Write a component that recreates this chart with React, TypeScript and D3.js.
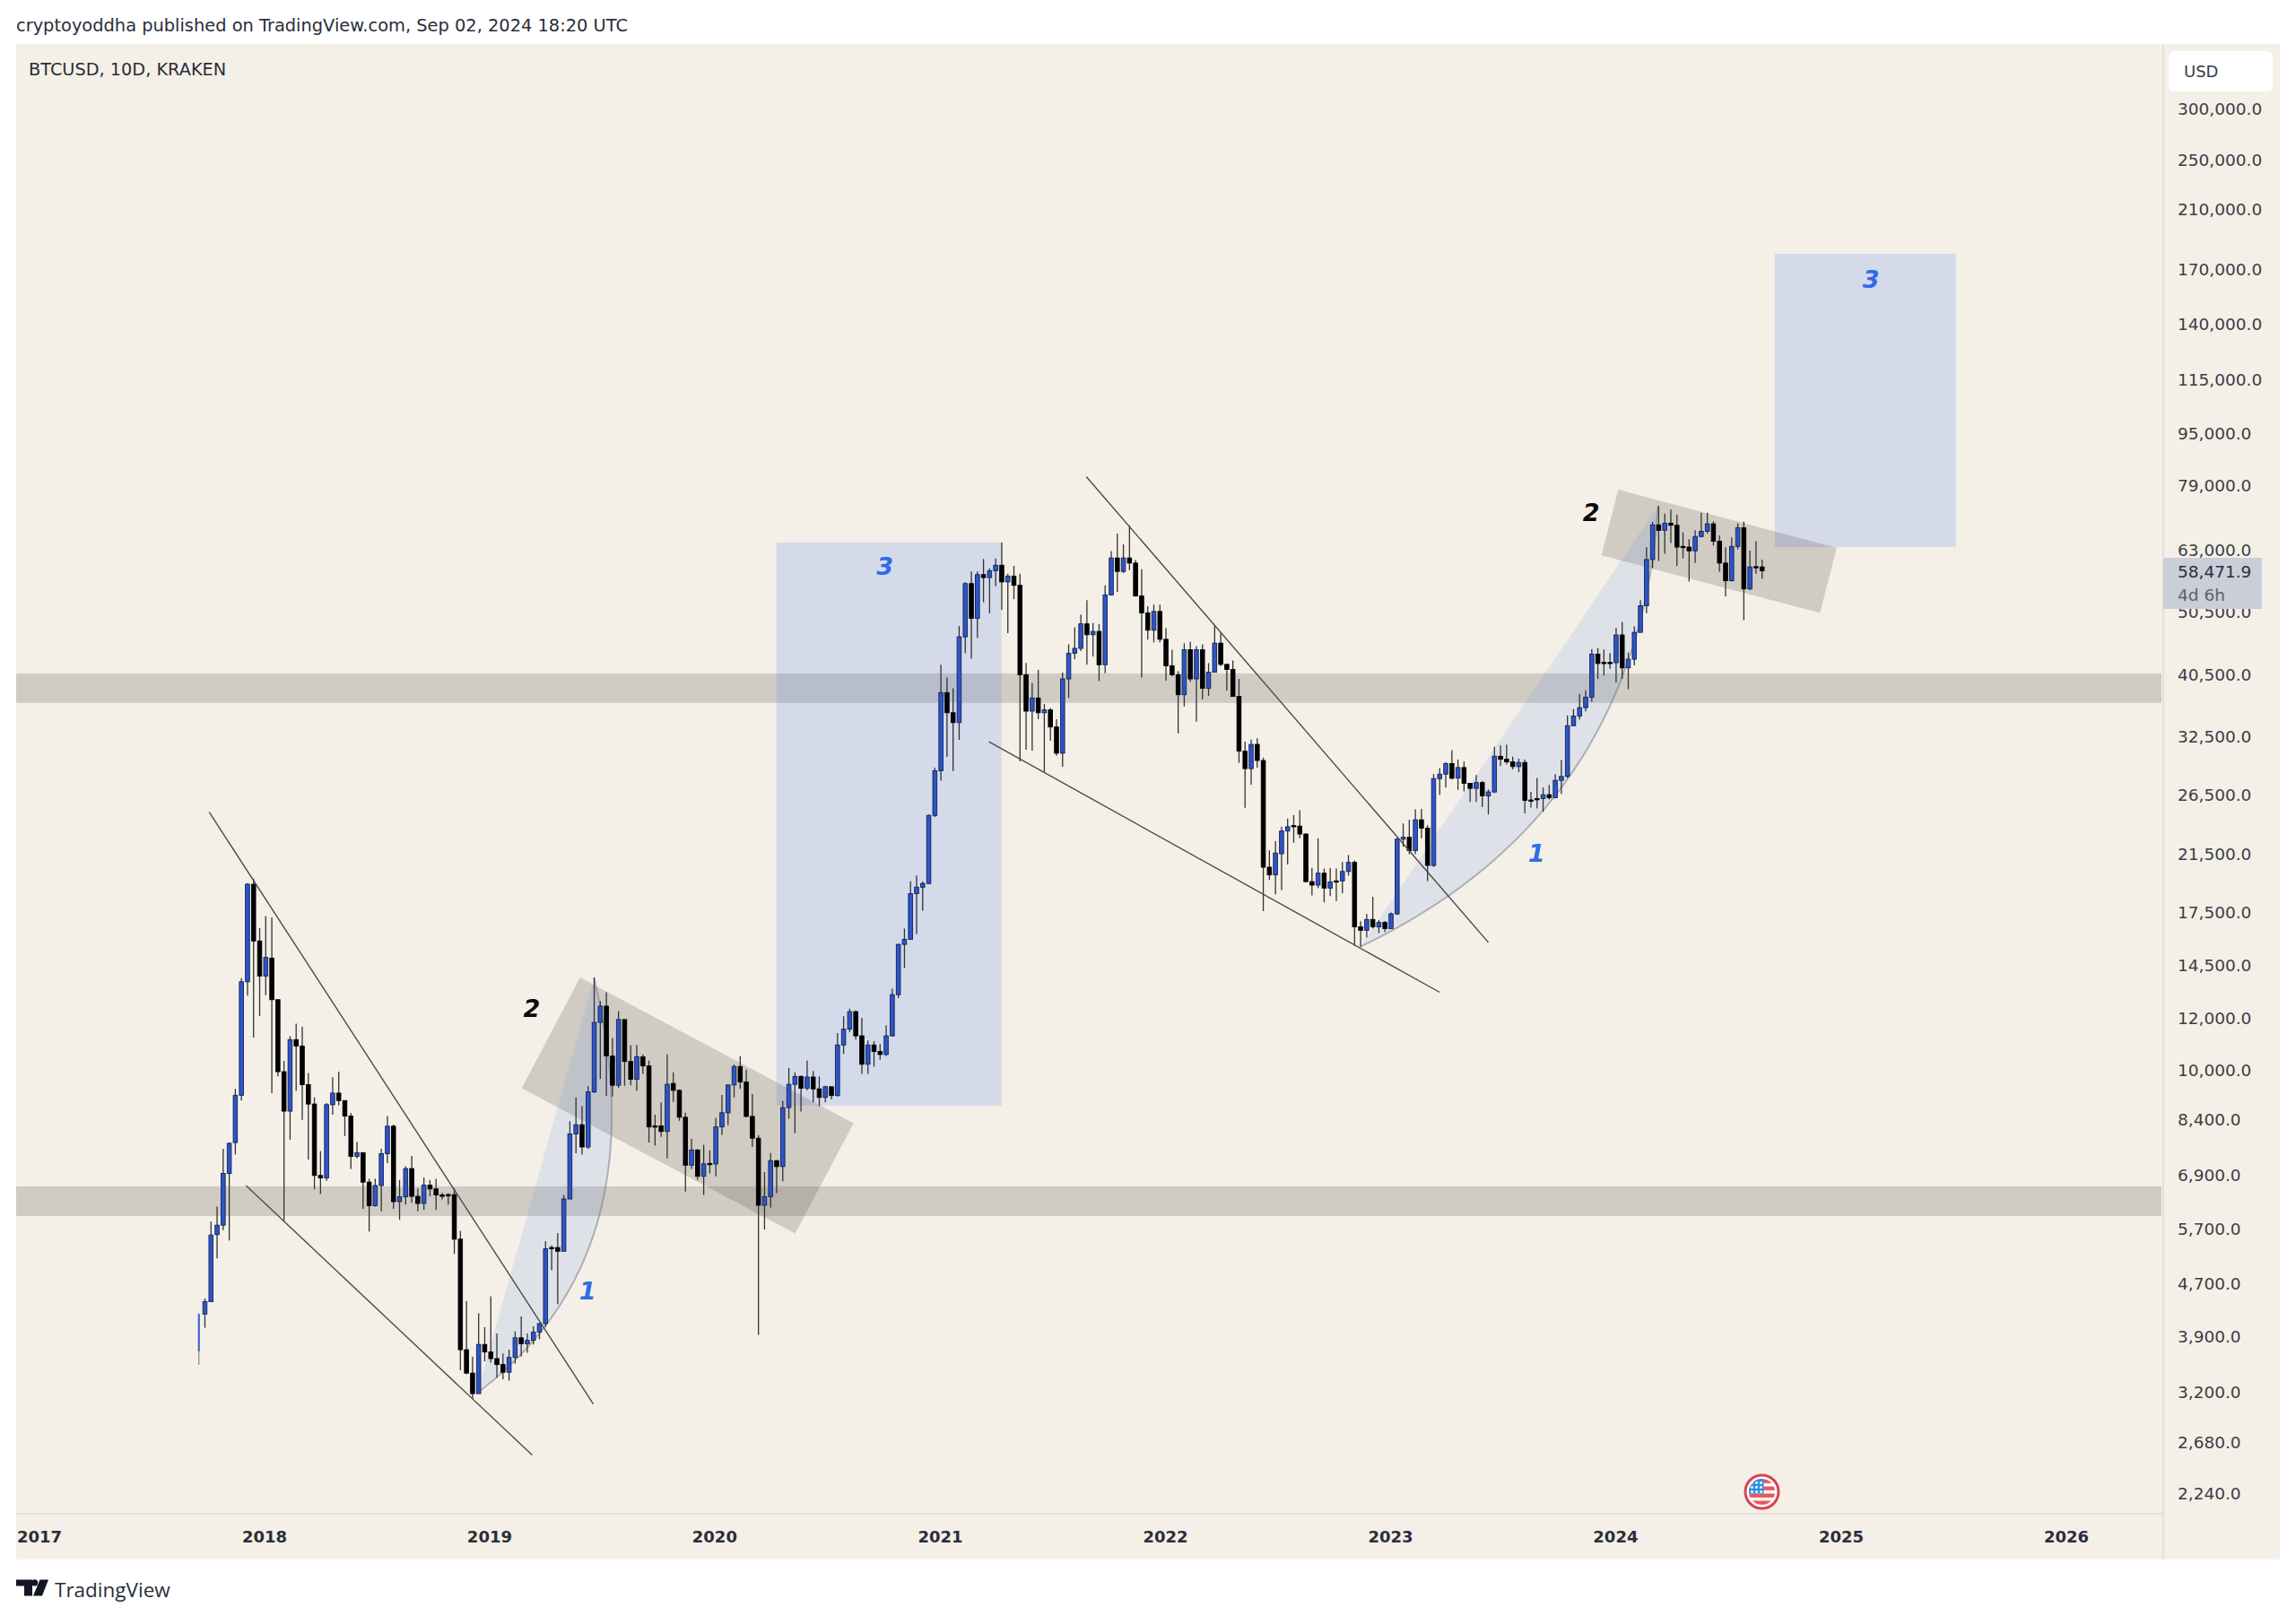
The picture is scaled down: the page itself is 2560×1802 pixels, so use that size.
import { useRef, useEffect } from 'react';
import * as d3 from 'd3';

// BTCUSD 10D candles, oldest first
const opens = [
  3705, 4220, 4410, 5590, 5780, 6940, 7740, 9150, 13670, 19300,
  15790, 13950, 14860, 12830, 9945, 8650, 11140, 10890, 9500, 8870,
  6890, 6830, 8850, 9220, 8980, 8500, 7370, 7470, 6730, 6190,
  6650, 7440, 8200, 6280, 6390, 7060, 6400, 6240, 6660, 6570,
  6430, 6440, 6440, 5500, 3720, 3425, 3185, 3790, 3690, 3605,
  3530, 3435, 3620, 3880, 3800, 3845, 3960, 4080, 5340, 5340,
  5270, 6340, 7980, 8245, 7620, 9260, 11840, 12540, 10510, 9480,
  11960, 10310, 9680, 10480, 10150, 8210, 8210, 8050, 9540, 9310,
  8465, 7145, 7540, 6870, 7190, 7175, 8180, 8600, 9490, 10130,
  9590, 8490, 7860, 6200, 6390, 7260, 7110, 8760, 9510, 9780,
  9380, 9760, 9360, 9080, 9430, 9140, 10930, 11560, 12300, 11290,
  10210, 10930, 10680, 10570, 11290, 13060, 15600, 15880, 18670, 19100,
  19350, 24620, 28830, 38010, 35400, 34190, 46300, 55900, 49440, 57700,
  57100, 58500, 59650, 56220, 57400, 55550, 40500, 35600, 37300, 35400,
  35760, 33660, 30680, 39900, 43700, 44450, 48480, 46650, 47200, 41950,
  53700, 61200, 58350, 61200, 60100, 53500, 50400, 47400, 50650, 45900,
  41800, 40500, 37730, 44240, 39900, 44240, 38590, 40850, 45280, 42000,
  41250, 37500, 30900, 29050, 31650, 29900, 20500, 19950, 21500, 23300,
  23750, 23700, 23050, 19480, 19240, 20070, 19040, 19530, 19530, 20190,
  20850, 16600, 16400, 17040, 16600, 16860, 16500, 17380, 22630, 22790,
  21740, 24240, 23530, 20630, 28040, 28490, 29570, 28100, 29160, 27580,
  27090, 27650, 26380, 26750, 30350, 30030, 29750, 29260, 29690, 26000,
  26130, 26130, 26490, 26210, 27870, 28260, 33810, 34980, 36040, 37400,
  43560, 42300, 42300, 42250, 46610, 41490, 42780, 47040, 51690, 60860,
  68800, 67490, 69220, 68700, 63750, 63600, 62760, 66030, 67240, 69050,
  64920, 60100, 56470, 63750, 68090, 54850, 59350, 59290,
];
const highs = [
  4220, 4460, 5850, 6170, 7570, 7740, 9360, 13840, 19380, 19680,
  16530, 17250, 17170, 12830, 10330, 11280, 11790, 11660, 9900, 9080,
  7510, 8900, 9750, 9945, 8980, 8590, 7760, 7470, 6810, 6810,
  7570, 8500, 8250, 6780, 7120, 7380, 6580, 6840, 6780, 6810,
  6480, 6470, 6580, 5665, 4420, 3630, 4230, 4030, 4495, 3940,
  3670, 3720, 3970, 4185, 3940, 4040, 4090, 5460, 5380, 5620,
  6430, 8350, 9080, 8800, 9450, 13880, 12770, 13170, 11200, 12320,
  11960, 10910, 10930, 10570, 10345, 8540, 8925, 10570, 9920, 9340,
  8600, 7840, 7560, 7680, 7530, 8450, 9160, 9510, 10200, 10510,
  10020, 9190, 7950, 6970, 7460, 7280, 8970, 10080, 9920, 9810,
  10345, 9970, 9780, 9460, 9430, 11400, 12100, 12430, 12350, 12030,
  11110, 11080, 10970, 11710, 13340, 15640, 16500, 19500, 19900, 19500,
  24700, 29140, 41950, 40090, 38590, 48100, 56150, 58340, 58340, 61000,
  59000, 61100, 64660, 57900, 59500, 57900, 42200, 39300, 41200, 36500,
  36000, 34600, 40800, 45100, 47900, 50100, 52700, 48600, 48460, 55550,
  62700, 66700, 64200, 68700, 60800, 58800, 51600, 51900, 51900, 47730,
  44240, 41010, 45250, 45500, 44800, 45100, 42200, 48200, 47000, 42100,
  42600, 39900, 31950, 32200, 32350, 30200, 21750, 22470, 23650, 24350,
  24650, 25070, 23100, 20450, 22700, 20400, 20430, 20400, 20880, 21400,
  21000, 16930, 17370, 18460, 17000, 16950, 17460, 22750, 23930, 24240,
  25150, 25200, 23780, 28490, 29100, 29700, 31000, 30000, 29790, 27580,
  28390, 27800, 27000, 31370, 31540, 31640, 30310, 30100, 30000, 26750,
  28100, 27170, 27420, 28490, 29940, 35070, 35870, 37850, 38310, 44360,
  44500, 44270, 43700, 47800, 48810, 43800, 48030, 52730, 63570, 69580,
  73540, 71600, 72600, 71300, 67000, 65400, 67500, 71800, 71800, 69650,
  66300, 63570, 65800, 69150, 69580, 62800, 64920, 60860,
];
const lows = [
  3525, 4020, 4410, 5140, 5680, 5475, 7420, 8980, 13010, 11220,
  12110, 13030, 9220, 9780, 5870, 7820, 9290, 8390, 7290, 6560,
  6450, 6760, 8540, 8830, 7920, 7050, 7320, 6120, 5650, 6170,
  6070, 7200, 6120, 5890, 6215, 6260, 6070, 6100, 6400, 6100,
  6330, 6215, 5220, 3460, 3410, 3125, 3185, 3570, 3555, 3370,
  3350, 3335, 3540, 3630, 3680, 3790, 3860, 4030, 4925, 4370,
  5270, 6340, 7455, 7420, 7565, 9220, 9690, 9120, 9110, 9390,
  9460, 9480, 9290, 9870, 7740, 7660, 7900, 7320, 8940, 8360,
  6510, 7050, 6780, 6430, 6940, 6870, 7950, 8230, 9080, 9360,
  8470, 7620, 3920, 5690, 6150, 6470, 6750, 8420, 8000, 8640,
  9310, 8925, 8800, 8925, 9015, 9110, 10590, 11440, 11140, 9870,
  9870, 10130, 10370, 10510, 11260, 12900, 14350, 15880, 16180, 17580,
  19320, 24480, 27850, 30270, 28800, 32170, 43700, 42900, 46150, 52320,
  50320, 55380, 50950, 46900, 52900, 29800, 31050, 30950, 34600, 28700,
  32070, 30400, 29250, 37320, 42800, 44040, 41950, 43200, 39600, 40700,
  53600, 54300, 58000, 58600, 53400, 40100, 45850, 45400, 45400, 39650,
  40250, 32900, 36200, 39500, 34300, 37130, 37550, 40850, 41750, 38300,
  37500, 29650, 25300, 27450, 29150, 17550, 19600, 18620, 18900, 20700,
  22350, 22700, 19430, 18550, 19040, 18100, 18500, 18180, 18700, 19900,
  15520, 15460, 15990, 16500, 16240, 16300, 16500, 17310, 22040, 21460,
  21460, 22700, 19510, 20520, 26460, 27170, 27950, 26950, 26800, 25820,
  25820, 25360, 24700, 26660, 29320, 29500, 28970, 28700, 24800, 25320,
  25240, 24940, 26050, 26180, 26570, 28100, 33820, 34540, 35570, 36780,
  39910, 40400, 41340, 39400, 39910, 38470, 41860, 47000, 50330, 59050,
  60540, 62100, 64500, 59530, 61100, 56280, 60150, 65800, 66700, 63950,
  58290, 53420, 56280, 63100, 49100, 54620, 57880, 56850,
];
const closes = [
  4220, 4410, 5580, 5780, 6940, 7720, 9150, 13670, 19300, 15790,
  13950, 14900, 12830, 9945, 8650, 11140, 10890, 9500, 8870, 6890,
  6830, 8850, 9220, 8980, 8500, 7370, 7470, 6730, 6190, 6650,
  7440, 8200, 6280, 6390, 7060, 6400, 6240, 6660, 6570, 6430,
  6400, 6420, 5500, 3720, 3425, 3185, 3790, 3690, 3605, 3530,
  3435, 3620, 3880, 3800, 3845, 3960, 4080, 5315, 5320, 5270,
  6340, 7980, 8245, 7620, 9260, 11840, 12540, 10520, 9480, 11960,
  10310, 9680, 10480, 10150, 8180, 8180, 8050, 9510, 9310, 8465,
  7145, 7540, 6870, 7180, 7175, 8180, 8600, 9490, 10130, 9590,
  8490, 7860, 6200, 6390, 7260, 7110, 8760, 9510, 9780, 9380,
  9760, 9360, 9080, 9430, 9140, 10930, 11560, 12300, 11290, 10210,
  10930, 10680, 10570, 11290, 13060, 15600, 15880, 18670, 19100, 19350,
  24620, 28830, 38010, 35400, 34190, 46300, 55900, 49440, 57700, 57100,
  58500, 59650, 56220, 57400, 55550, 40500, 35600, 37300, 35400, 35760,
  33660, 30680, 39900, 43700, 44450, 48480, 46650, 47200, 41950, 53700,
  61200, 58350, 61200, 60100, 53500, 50400, 47400, 50650, 45900, 41800,
  40500, 37730, 44240, 39900, 44240, 38590, 40850, 45280, 42000, 41250,
  37500, 30900, 29050, 31650, 29900, 20500, 19950, 21550, 23300, 23650,
  23700, 23050, 19480, 19240, 20070, 19040, 19460, 19460, 20190, 20850,
  16600, 16400, 17040, 16600, 16860, 16500, 17380, 22630, 22790, 21740,
  24240, 23530, 20630, 28040, 28490, 29570, 28080, 29160, 27580, 27090,
  27650, 26380, 26750, 30350, 30030, 29750, 29260, 29690, 25960, 25990,
  26060, 26490, 26210, 27870, 28260, 33810, 34980, 36040, 37400, 43560,
  42130, 42240, 42250, 46610, 41490, 42780, 47040, 51690, 60860, 68800,
  67490, 69220, 68700, 63600, 63700, 62760, 66030, 67240, 69050, 64920,
  60100, 56470, 63750, 68090, 54850, 59290, 59250, 58471.9,
];

const priceTicks = [
  300000, 250000, 210000, 170000, 140000, 115000, 95000, 79000, 63000, 50500,
  40500, 32500, 26500, 21500, 17500, 14500, 12000, 10000, 8400, 6900,
  5700, 4700, 3900, 3200, 2680, 2240,
];
const years = [2017, 2018, 2019, 2020, 2021, 2022, 2023, 2024, 2025, 2026];

// drawings, anchored as [bar, price]
const zones = [
  [36650, 40680],
  [5970, 6630],
];
const targetBoxes = [
  [94.96, 131.97, 64640, 8820],
  [259.1, 288.9, 179460, 63620],
];
const channels = [
  [[62.67, 13880], [107.64, 8290], [98.05, 5610], [53.08, 9380]],
  [[233.36, 77950], [269.25, 63420], [266.53, 50370], [230.6, 61770]],
];
const trendLines = [
  [[1.71, 24900], [64.85, 3070]],
  [[7.76, 6650], [54.8, 2563]],
  [[145.9, 81580], [212.0, 15710]],
  [[129.9, 31940], [204.0, 13170]],
];
const arcs = [
  [[45.75, 3190], [75.9, 5205], [64.97, 13850]],
  [[190.95, 15470], [236.7, 24780], [239.9, 73600]],
];
const waveLabels: [number, number, string, string][] = [
  [63.9, 4590, '1', '#2f6bea'],
  [219.9, 21580, '1', '#2f6bea'],
  [54.75, 12460, '2', '#0c0c0c'],
  [228.9, 71830, '2', '#0c0c0c'],
  [112.8, 59520, '3', '#2f6bea'],
  [274.9, 164200, '3', '#2f6bea'],
];

const lastPrice = 58471.9;
const countdown = '4d 6h';

const WIDTH = 2560;
const HEIGHT = 1802;
const UI_FONT = '"DejaVu Sans", sans-serif';

export default function App() {
  const svgRef = useRef<SVGSVGElement>(null);

  useEffect(() => {
    if (!svgRef.current) return;
    const svg = d3.select(svgRef.current);
    svg.selectAll('*').remove();

    const plot = { left: 18, right: 2412, top: 49, bottom: 1688, panelBottom: 1739, panelRight: 2542 };

    const x = d3.scaleLinear().domain([0, closes.length - 1]).range([221.7, 1964.7]);
    const y = d3.scaleLog().domain([2240, 300000]).range([1665, 121]);
    const yearX = d3.scaleTime()
      .domain([new Date(2017, 0, 1), new Date(2026, 0, 1)])
      .range([44, 2304]);

    svg.append('rect').attr('width', WIDTH).attr('height', HEIGHT).attr('fill', '#ffffff');

    // Panel
    svg.append('rect')
      .attr('x', plot.left)
      .attr('y', plot.top)
      .attr('width', plot.panelRight - plot.left)
      .attr('height', plot.panelBottom - plot.top)
      .attr('fill', '#f4f0e7');

    const defs = svg.append('defs');
    defs.append('clipPath').attr('id', 'plot-clip')
      .append('rect')
      .attr('x', plot.left)
      .attr('y', plot.top)
      .attr('width', plot.right - plot.left - 2)
      .attr('height', plot.bottom - plot.top);

    const g = svg.append('g').attr('clip-path', 'url(#plot-clip)');

    // Support zones
    for (const [lo, hi] of zones) {
      g.append('rect')
        .attr('x', plot.left)
        .attr('y', y(hi))
        .attr('width', plot.right - plot.left)
        .attr('height', y(lo) - y(hi))
        .attr('fill', 'rgb(91,87,83)')
        .attr('fill-opacity', 0.23);
    }

    // Target boxes
    for (const [b0, b1, top, bottom] of targetBoxes) {
      g.append('rect')
        .attr('x', x(b0))
        .attr('y', y(top))
        .attr('width', x(b1) - x(b0))
        .attr('height', y(bottom) - y(top))
        .attr('fill', 'rgb(83,129,246)')
        .attr('fill-opacity', 0.2);
    }

    // Sloped consolidation channels
    const toPx = (p: number[]) => [x(p[0]), y(p[1])] as [number, number];
    for (const corners of channels) {
      g.append('path')
        .attr('d', d3.line()(corners.map(toPx)) + 'Z')
        .attr('fill', 'rgb(91,87,83)')
        .attr('fill-opacity', 0.23);
    }

    // Impulse arcs
    for (const [a, c, b] of arcs) {
      const [ax, ay] = toPx(a);
      const [cx, cy] = toPx(c);
      const [bx, by] = toPx(b);
      const curve = d3.path();
      curve.moveTo(ax, ay);
      curve.quadraticCurveTo(cx, cy, bx, by);
      g.append('path')
        .attr('d', curve.toString() + 'Z')
        .attr('fill', 'rgb(100,135,240)')
        .attr('fill-opacity', 0.14);
      g.append('path')
        .attr('d', curve.toString())
        .attr('fill', 'none')
        .attr('stroke', 'rgb(110,115,130)')
        .attr('stroke-opacity', 0.5)
        .attr('stroke-width', 1.9);
    }

    // Candles
    const bodyW = 4.6;
    closes.forEach((close, i) => {
      const open = opens[i];
      const up = close >= open;
      const cx = x(i);
      const top = y(Math.max(open, close));
      const bottom = y(Math.min(open, close));
      g.append('line')
        .attr('x1', cx)
        .attr('x2', cx)
        .attr('y1', y(highs[i]))
        .attr('y2', y(lows[i]))
        .attr('stroke', i === 0 ? '#8d8d8d' : '#333333')
        .attr('stroke-width', 1.3);
      // the first bar is cut down to a sliver on the chart's left end
      const w = i === 0 ? 1.2 : bodyW;
      g.append('rect')
        .attr('x', cx - w / 2)
        .attr('y', top)
        .attr('width', w)
        .attr('height', Math.max(1.4, bottom - top))
        .attr('fill', up ? '#2f55c4' : '#000000')
        .attr('stroke', up ? (i === 0 ? '#4a6bd0' : '#10225c') : '#000000')
        .attr('stroke-width', 0.9);
    });

    // Trend lines
    for (const [p0, p1] of trendLines) {
      g.append('line')
        .attr('x1', x(p0[0]))
        .attr('y1', y(p0[1]))
        .attr('x2', x(p1[0]))
        .attr('y2', y(p1[1]))
        .attr('stroke', '#4a4a48')
        .attr('stroke-width', 1.4);
    }

    // Wave labels
    for (const [bar, price, label, color] of waveLabels) {
      g.append('text')
        .attr('x', x(bar))
        .attr('y', y(price))
        .attr('dy', '0.36em')
        .attr('text-anchor', 'middle')
        .attr('font-family', UI_FONT)
        .attr('font-size', 27)
        .attr('font-weight', 700)
        .attr('font-style', 'italic')
        .attr('fill', color)
        .text(label);
    }

    // Axis borders
    svg.append('line')
      .attr('x1', plot.right).attr('x2', plot.right)
      .attr('y1', plot.top).attr('y2', plot.panelBottom)
      .attr('stroke', '#dad6ce').attr('stroke-width', 1.2);
    svg.append('line')
      .attr('x1', plot.left).attr('x2', plot.right)
      .attr('y1', plot.bottom).attr('y2', plot.bottom)
      .attr('stroke', '#d8d3cb').attr('stroke-width', 1.2);

    // Price axis
    const fmt = d3.format(',.1f');
    for (const tick of priceTicks) {
      svg.append('text')
        .attr('x', 2428)
        .attr('y', y(tick))
        .attr('dy', '0.36em')
        .attr('font-family', UI_FONT)
        .attr('font-size', 18.5)
        .attr('fill', '#3a3d46')
        .text(fmt(tick));
    }

    // Currency button
    svg.append('rect')
      .attr('x', 2418).attr('y', 57)
      .attr('width', 116).attr('height', 45)
      .attr('rx', 6)
      .attr('fill', '#ffffff');
    svg.append('text')
      .attr('x', 2435).attr('y', 80)
      .attr('dy', '0.36em')
      .attr('font-family', UI_FONT)
      .attr('font-size', 18)
      .attr('fill', '#3a3d46')
      .text('USD');

    // Last price tag
    svg.append('rect')
      .attr('x', 2412).attr('y', 622)
      .attr('width', 110).attr('height', 57)
      .attr('fill', '#c9ced9');
    svg.append('text')
      .attr('x', 2428).attr('y', 637)
      .attr('dy', '0.36em')
      .attr('font-family', UI_FONT)
      .attr('font-size', 18.5)
      .attr('fill', '#2a2e39')
      .text(fmt(lastPrice));
    svg.append('text')
      .attr('x', 2428).attr('y', 663)
      .attr('dy', '0.36em')
      .attr('font-family', UI_FONT)
      .attr('font-size', 18.5)
      .attr('fill', '#5d606b')
      .text(countdown);

    // Time axis
    for (const year of years) {
      svg.append('text')
        .attr('x', yearX(new Date(year, 0, 1)))
        .attr('y', 1714)
        .attr('dy', '0.36em')
        .attr('text-anchor', 'middle')
        .attr('font-family', UI_FONT)
        .attr('font-size', 18)
        .attr('font-weight', 700)
        .attr('fill', '#2a2e39')
        .text(year);
    }

    // Headers
    svg.append('text')
      .attr('x', 18).attr('y', 28)
      .attr('dy', '0.36em')
      .attr('font-family', UI_FONT)
      .attr('font-size', 19.4)
      .attr('fill', '#2a2e39')
      .text('cryptoyoddha published on TradingView.com, Sep 02, 2024 18:20 UTC');
    svg.append('text')
      .attr('x', 32).attr('y', 77.5)
      .attr('dy', '0.36em')
      .attr('font-family', UI_FONT)
      .attr('font-size', 19.3)
      .attr('fill', '#2a2e39')
      .text('BTCUSD, 10D, KRAKEN');

    // US economic event badge
    const badge = svg.append('g').attr('transform', 'translate(1964.5,1663.5)');
    badge.append('circle').attr('r', 18.5).attr('fill', '#ffffff').attr('stroke', '#d9434e').attr('stroke-width', 3);
    const badgeClip = defs.append('clipPath').attr('id', 'badge-clip');
    badgeClip.append('circle').attr('r', 14.5);
    const flag = badge.append('g').attr('clip-path', 'url(#badge-clip)');
    for (const sy of [-14, -6, 2, 10]) {
      flag.append('rect').attr('x', -15).attr('y', sy).attr('width', 30).attr('height', 4.4).attr('fill', '#e8575c');
    }
    flag.append('rect').attr('x', -15).attr('y', -15).attr('width', 17).attr('height', 17).attr('fill', '#2f8fe0');
    for (const sx of [-11, -6, -1]) {
      for (const sy of [-10, -5, 0]) {
        flag.append('circle').attr('cx', sx).attr('cy', sy).attr('r', 1.4).attr('fill', '#ffffff');
      }
    }

    // Brand mark
    const logo = svg.append('g').attr('fill', '#131722').attr('transform', 'translate(0,1.5)');
    logo.append('path').attr('d', 'M18 1760H36V1778H27V1767H18Z');
    logo.append('circle').attr('cx', 38.6).attr('cy', 1763.4).attr('r', 3.6);
    logo.append('path').attr('d', 'M44.5 1760H54L47 1778H37Z');
    svg.append('text')
      .attr('x', 61).attr('y', 1772.5)
      .attr('dy', '0.36em')
      .attr('font-family', '"Open Sans", sans-serif')
      .attr('font-size', 22.5)
      .attr('fill', '#2a2e39')
      .text('TradingView');
  }, []);

  return (
    <div style={{ position: 'absolute', left: 0, top: 0 }}>
      <svg ref={svgRef} width={WIDTH} height={HEIGHT} style={{ display: 'block' }} />
    </div>
  );
}
